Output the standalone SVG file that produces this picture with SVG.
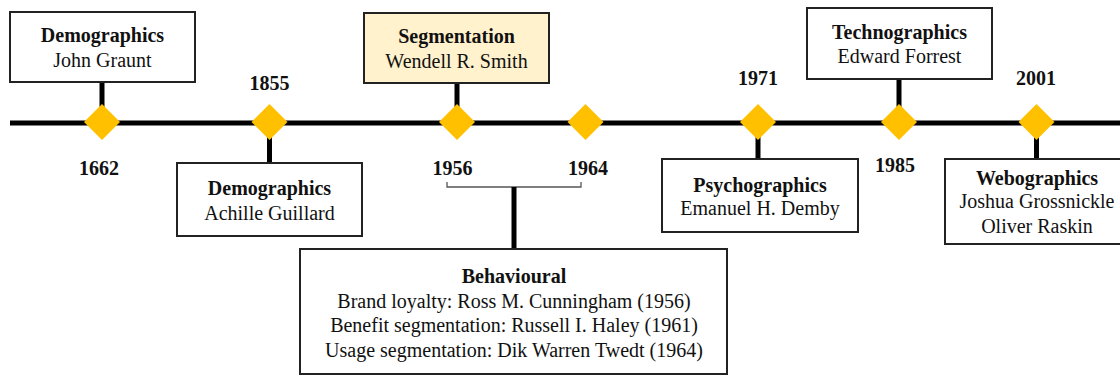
<svg xmlns="http://www.w3.org/2000/svg" width="1120" height="376" viewBox="0 0 1120 376">
<style>
.box{fill:#ffffff;stroke:#222222;stroke-width:2}
.hl{fill:#FFF2CC}
.stem{stroke:#000000;stroke-width:5;fill:none}
.dia{fill:#FFC000}
.t{font-family:"Liberation Serif","Times New Roman",serif;font-size:20px;fill:#111111;text-anchor:middle}
.b{font-weight:bold}
.br{stroke:#555555;stroke-width:1.3;fill:none}
</style>
<defs>
<path id="d" class="dia" d="M0,-18 L18,0 L0,18 L-18,0 Z"/>
</defs>
<g id="connectors">
<line class="stem" x1="10" y1="123" x2="1120" y2="123"/>
<line class="stem" x1="102" y1="82" x2="102" y2="123"/>
<line class="stem" x1="269.5" y1="123" x2="269.5" y2="163"/>
<line class="stem" x1="457" y1="83" x2="457" y2="123"/>
<line class="stem" x1="758" y1="123" x2="758" y2="159"/>
<line class="stem" x1="899" y1="79" x2="899" y2="123"/>
<line class="stem" x1="1036.5" y1="123" x2="1036.5" y2="159"/>
<path class="br" d="M447,182 V187 H581 V182"/>
<line class="stem" x1="514" y1="187" x2="514" y2="249"/>
</g>
<g id="diamonds">
<use href="#d" x="102" y="122"/>
<use href="#d" x="269.5" y="122"/>
<use href="#d" x="457" y="122"/>
<use href="#d" x="585.5" y="122"/>
<use href="#d" x="758" y="122"/>
<use href="#d" x="899" y="122"/>
<use href="#d" x="1036.5" y="122"/>
</g>
<g id="years">
<text class="t b" x="99" y="175">1662</text>
<text class="t b" x="269.5" y="90">1855</text>
<text class="t b" x="452.5" y="175">1956</text>
<text class="t b" x="588" y="175">1964</text>
<text class="t b" x="758" y="85">1971</text>
<text class="t b" x="895" y="172">1985</text>
<text class="t b" x="1036" y="85">2001</text>
</g>
<g id="node-graunt">
<rect class="box" x="10" y="12" width="185" height="70"/>
<text class="t b" x="102.5" y="42">Demographics</text>
<text class="t" x="102.5" y="67">John Graunt</text>
</g>
<g id="node-guillard">
<rect class="box" x="177" y="163" width="185" height="73"/>
<text class="t b" x="269.5" y="195">Demographics</text>
<text class="t" x="269.5" y="220">Achille Guillard</text>
</g>
<g id="node-segmentation">
<rect class="box hl" x="364" y="13" width="185" height="70"/>
<text class="t b" x="456.5" y="43">Segmentation</text>
<text class="t" x="456.5" y="68">Wendell R. Smith</text>
</g>
<g id="node-behavioural">
<rect class="box" x="300" y="249" width="427" height="125"/>
<text class="t b" x="514" y="283">Behavioural</text>
<text class="t" x="514" y="308">Brand loyalty: Ross M. Cunningham (1956)</text>
<text class="t" x="514" y="332">Benefit segmentation: Russell I. Haley (1961)</text>
<text class="t" x="514" y="357">Usage segmentation: Dik Warren Twedt (1964)</text>
</g>
<g id="node-psychographics">
<rect class="box" x="662" y="159" width="196" height="73"/>
<text class="t b" x="760" y="192">Psychographics</text>
<text class="t" x="760" y="215">Emanuel H. Demby</text>
</g>
<g id="node-technographics">
<rect class="box" x="807" y="8" width="185" height="71"/>
<text class="t b" x="899.5" y="39">Technographics</text>
<text class="t" x="899.5" y="63">Edward Forrest</text>
</g>
<g id="node-webographics">
<rect class="box" x="945" y="159" width="184" height="85"/>
<text class="t b" x="1037" y="185">Webographics</text>
<text class="t" x="1037" y="208">Joshua Grossnickle</text>
<text class="t" x="1037" y="233">Oliver Raskin</text>
</g>
</svg>
